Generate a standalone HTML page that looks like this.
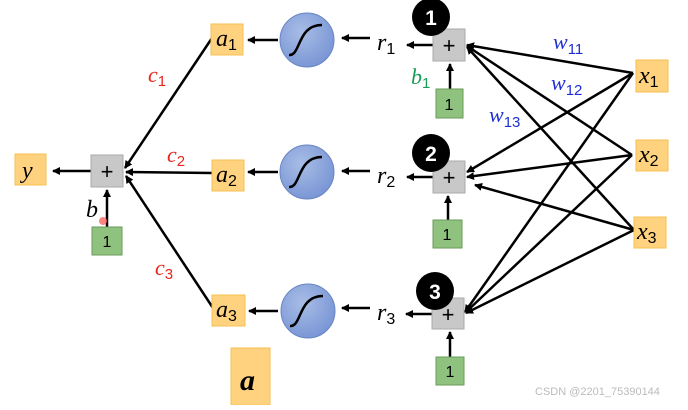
<!DOCTYPE html>
<html><head><style>
body{margin:0;background:#fff;width:688px;height:405px;overflow:hidden}
svg text{font-family:"Liberation Serif",serif;font-style:italic}
.n{font-style:normal;font-family:"Liberation Sans",sans-serif}
</style></head><body>
<svg width="688" height="405" viewBox="0 0 688 405" xmlns="http://www.w3.org/2000/svg">
<defs>
<marker id="ar" markerWidth="8" markerHeight="8" refX="7" refY="4" orient="auto" markerUnits="userSpaceOnUse">
<path d="M0,0 L8,4 L0,8 z" fill="#000"/></marker>
<radialGradient id="cg" cx="0.4" cy="0.35" r="0.7"><stop offset="0" stop-color="#a8bde6"/><stop offset="1" stop-color="#7794d4"/></radialGradient>
</defs>
<g stroke="#000" stroke-width="2.5" fill="none" marker-end="url(#ar)">
<line x1="91" y1="171" x2="53" y2="171"/>
<line x1="107" y1="227" x2="107" y2="190"/>
<line x1="212" y1="38" x2="125" y2="168"/>
<line x1="212" y1="173" x2="126" y2="172"/>
<line x1="213" y1="308" x2="126" y2="176"/>
<line x1="278" y1="40" x2="248" y2="40"/>
<line x1="278" y1="172" x2="248" y2="172"/>
<line x1="278" y1="311" x2="249" y2="311"/>
<line x1="370" y1="38" x2="342" y2="38"/>
<line x1="370" y1="171" x2="342" y2="171"/>
<line x1="370" y1="308" x2="342" y2="308"/>
<line x1="433" y1="45" x2="407" y2="45"/>
<line x1="433" y1="177" x2="407" y2="177"/>
<line x1="432" y1="314" x2="406" y2="314"/>
<line x1="450" y1="89" x2="450" y2="64"/>
<line x1="448" y1="220" x2="448" y2="196"/>
<line x1="450" y1="357" x2="450" y2="332"/>
<line x1="633" y1="73" x2="467" y2="45"/>
<line x1="633" y1="73" x2="467" y2="172"/>
<line x1="633" y1="73" x2="465" y2="312"/>
<line x1="632" y1="155" x2="467" y2="46"/>
<line x1="632" y1="155" x2="467" y2="177"/>
<line x1="632" y1="155" x2="466" y2="312"/>
<line x1="634" y1="230" x2="467" y2="47"/>
<line x1="634" y1="230" x2="475" y2="185"/>
<line x1="634" y1="230" x2="466" y2="313"/>
</g>
<g fill="#ffd27f" stroke="#f5c050" stroke-width="1">
<rect x="15" y="154" width="31" height="31"/>
<rect x="211" y="24" width="32" height="31"/>
<rect x="212" y="160" width="32" height="31"/>
<rect x="212" y="295" width="33" height="31"/>
<rect x="231" y="348" width="39" height="57"/>
<rect x="636" y="60" width="32" height="32"/>
<rect x="636" y="140" width="32" height="31"/>
<rect x="634" y="217" width="32" height="31"/>
</g>
<g fill="#c8c8c8" stroke="#aaa">
<rect x="91" y="155" width="32" height="32"/>
<rect x="433" y="29" width="32" height="32"/>
<rect x="433" y="161" width="32" height="32"/>
<rect x="432" y="298" width="32" height="31"/>
</g>
<g fill="#8fc27e" stroke="#6a9a5a">
<rect x="92" y="227" width="30" height="28"/>
<rect x="436" y="89" width="27" height="29"/>
<rect x="433" y="220" width="29" height="28"/>
<rect x="436" y="357" width="28" height="28"/>
</g>
<g text-anchor="middle" fill="#000">
<text class="n" x="107" y="179" font-size="22">+</text>
<text class="n" x="449" y="53" font-size="22">+</text>
<text class="n" x="449" y="185" font-size="22">+</text>
<text class="n" x="448" y="322" font-size="22">+</text>
<text class="n" x="107" y="247" font-size="16">1</text>
<text class="n" x="449" y="110" font-size="16">1</text>
<text class="n" x="447" y="240" font-size="16">1</text>
<text class="n" x="450" y="377" font-size="16">1</text>
</g>
<g stroke="#6a85c4" stroke-width="1" fill="url(#cg)">
<circle cx="307" cy="40" r="27"/><circle cx="307" cy="172" r="27"/><circle cx="308" cy="311" r="27"/>
</g>
<g stroke="#000" stroke-width="2.5" fill="none">
<path d="M289,55 C301,56 297,25 322,25"/>
<path d="M289,187 C301,188 297,157 322,157"/>
<path d="M290,326 C302,327 298,296 323,296"/>
</g>
<g fill="#000"><circle cx="431" cy="17" r="19"/><circle cx="431" cy="153" r="19"/><circle cx="435" cy="291" r="19"/></g>
<g fill="#fff" font-size="21" text-anchor="middle" font-weight="bold">
<text class="n" x="431" y="25">1</text>
<text class="n" x="431" y="161">2</text>
<text class="n" x="435" y="299">3</text>
</g>
<g font-size="24" fill="#000">
<text x="22" y="178">y</text>
<text x="216" y="46">a<tspan class="n" font-size="16" dy="4">1</tspan></text>
<text x="216" y="182">a<tspan class="n" font-size="16" dy="4">2</tspan></text>
<text x="216" y="317">a<tspan class="n" font-size="16" dy="4">3</tspan></text>
<text x="240" y="390" font-size="30" font-weight="bold">a</text>
<text x="377" y="50">r<tspan class="n" font-size="16" dy="4">1</tspan></text>
<text x="377" y="183">r<tspan class="n" font-size="16" dy="4">2</tspan></text>
<text x="377" y="320">r<tspan class="n" font-size="16" dy="4">3</tspan></text>
<text x="639" y="83">x<tspan class="n" font-size="16" dy="4">1</tspan></text>
<text x="639" y="162">x<tspan class="n" font-size="16" dy="4">2</tspan></text>
<text x="637" y="239">x<tspan class="n" font-size="16" dy="4">3</tspan></text>
<text x="86" y="217">b</text>
</g>
<g font-size="22" fill="#e8261e">
<text x="148" y="82">c<tspan class="n" font-size="15" dy="4">1</tspan></text>
<text x="167" y="162">c<tspan class="n" font-size="15" dy="4">2</tspan></text>
<text x="155" y="275">c<tspan class="n" font-size="15" dy="4">3</tspan></text>
</g>
<text x="411" y="84" font-size="22" fill="#1a9a5a">b<tspan class="n" font-size="15" dy="4">1</tspan></text>
<g font-size="22" fill="#1f2fd6">
<text x="553" y="49">w<tspan class="n" font-size="15" dy="5">11</tspan></text>
<text x="551" y="90">w<tspan class="n" font-size="15" dy="5">12</tspan></text>
<text x="489" y="122">w<tspan class="n" font-size="15" dy="5">13</tspan></text>
</g>
<circle cx="103" cy="221" r="4" fill="#f66" opacity="0.8"/>
<text class="n" x="535" y="395" font-size="11" fill="#bbb">CSDN @2201_75390144</text>
</svg>
</body></html>
